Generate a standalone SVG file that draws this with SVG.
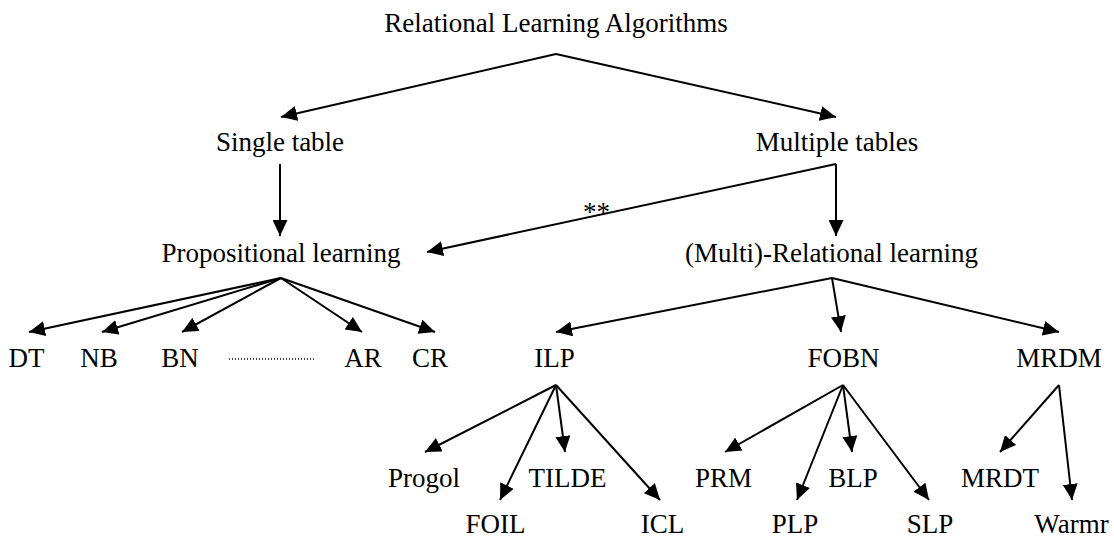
<svg xmlns="http://www.w3.org/2000/svg" width="1114" height="540" viewBox="0 0 1114 540">
  <style>
    .lbl { font-family: "Liberation Serif", "Times New Roman", serif; font-size: 27px; fill: #000; text-anchor: middle; }
    .edge { stroke: #000; stroke-width: 2; fill: none; marker-end: url(#arrow); }
    .dots { stroke: #000; stroke-width: 1.3; stroke-dasharray: 1 2; }
  </style>
  <defs>
    <marker id="arrow" markerUnits="userSpaceOnUse" markerWidth="16" markerHeight="15" refX="16" refY="7.5" orient="auto">
      <path d="M0,0 L16,7.5 L0,15 Z" fill="#000"/>
    </marker>
  </defs>
  <rect width="1114" height="540" fill="#fff"/>

  <!-- connectors -->
  <g id="connectors">
    <line class="edge" x1="556" y1="54" x2="281" y2="117"/>
    <line class="edge" x1="556" y1="54" x2="836" y2="117"/>
    <line class="edge" x1="280" y1="164" x2="280" y2="236"/>
    <line class="edge" x1="836" y1="164" x2="836" y2="236"/>
    <line class="edge" x1="836" y1="164" x2="427" y2="252"/>
    <text class="lbl" x="583" y="221" style="text-anchor:start">**</text>

    <line class="edge" x1="281" y1="278" x2="29" y2="332"/>
    <line class="edge" x1="281" y1="278" x2="102" y2="332"/>
    <line class="edge" x1="281" y1="278" x2="182" y2="332"/>
    <line class="edge" x1="281" y1="278" x2="362" y2="332"/>
    <line class="edge" x1="281" y1="278" x2="435" y2="332"/>
    <line class="dots" x1="229" y1="359" x2="314" y2="359"/>

    <line class="edge" x1="832" y1="278" x2="556" y2="332"/>
    <line class="edge" x1="832" y1="278" x2="841" y2="332"/>
    <line class="edge" x1="832" y1="278" x2="1059" y2="332"/>

    <line class="edge" x1="556" y1="385" x2="425" y2="452"/>
    <line class="edge" x1="556" y1="385" x2="500" y2="500"/>
    <line class="edge" x1="556" y1="385" x2="565" y2="452"/>
    <line class="edge" x1="556" y1="385" x2="660" y2="500"/>

    <line class="edge" x1="843" y1="385" x2="725" y2="452"/>
    <line class="edge" x1="843" y1="385" x2="797" y2="500"/>
    <line class="edge" x1="843" y1="385" x2="852" y2="452"/>
    <line class="edge" x1="843" y1="385" x2="929" y2="500"/>

    <line class="edge" x1="1059" y1="385" x2="1000" y2="452"/>
    <line class="edge" x1="1059" y1="385" x2="1072" y2="500"/>
  </g>

  <!-- nodes -->
  <g id="root"><text class="lbl" x="556" y="32">Relational Learning Algorithms</text></g>
  <g id="single"><text class="lbl" x="280" y="151">Single table</text></g>
  <g id="multiple"><text class="lbl" x="837" y="151">Multiple tables</text></g>
  <g id="propositional"><text class="lbl" x="281" y="262">Propositional learning</text></g>
  <g id="multirelational"><text class="lbl" x="831.5" y="262">(Multi)-Relational learning</text></g>

  <g id="dt"><text class="lbl" x="26.5" y="367">DT</text></g>
  <g id="nb"><text class="lbl" x="99" y="367">NB</text></g>
  <g id="bn"><text class="lbl" x="180" y="367">BN</text></g>
  <g id="ar"><text class="lbl" x="363" y="367">AR</text></g>
  <g id="cr"><text class="lbl" x="430" y="367">CR</text></g>

  <g id="ilp"><text class="lbl" x="554.5" y="367">ILP</text></g>
  <g id="fobn"><text class="lbl" x="843.5" y="367">FOBN</text></g>
  <g id="mrdm"><text class="lbl" x="1059" y="367">MRDM</text></g>

  <g id="progol"><text class="lbl" x="424" y="487">Progol</text></g>
  <g id="tilde"><text class="lbl" x="567.5" y="487">TILDE</text></g>
  <g id="prm"><text class="lbl" x="723.5" y="487">PRM</text></g>
  <g id="blp"><text class="lbl" x="853" y="487">BLP</text></g>
  <g id="mrdt"><text class="lbl" x="1000" y="487">MRDT</text></g>

  <g id="foil"><text class="lbl" x="495.5" y="533">FOIL</text></g>
  <g id="icl"><text class="lbl" x="662.5" y="533">ICL</text></g>
  <g id="plp"><text class="lbl" x="795" y="533">PLP</text></g>
  <g id="slp"><text class="lbl" x="930" y="533">SLP</text></g>
  <g id="warmr"><text class="lbl" x="1071.5" y="533">Warmr</text></g>
</svg>
